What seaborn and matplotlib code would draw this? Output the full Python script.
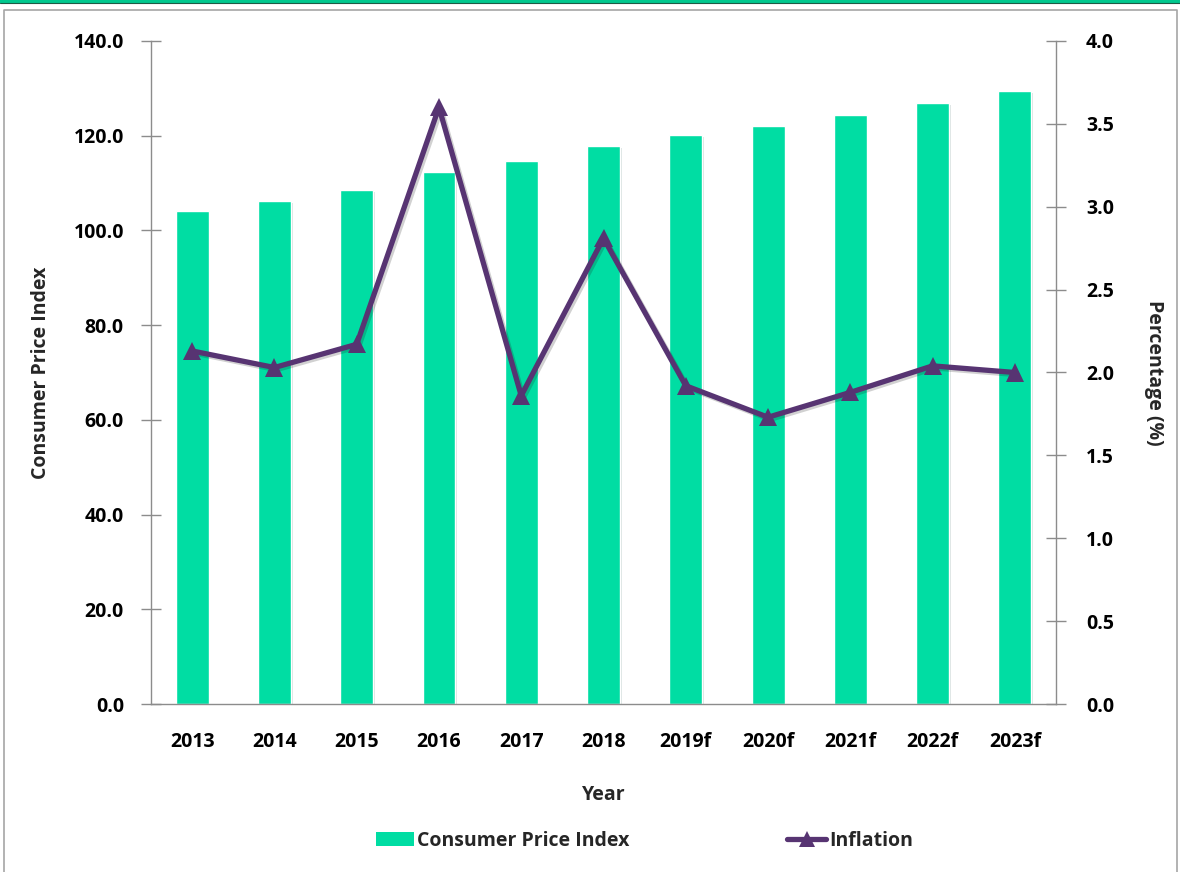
import numpy as np
import pandas as pd
import matplotlib
matplotlib.use("Agg")
import matplotlib.pyplot as plt
import matplotlib.patheffects as pe
from matplotlib.lines import Line2D
from matplotlib.patches import Patch, Rectangle
import seaborn as sns

years = ["2013", "2014", "2015", "2016", "2017", "2018",
         "2019f", "2020f", "2021f", "2022f", "2023f"]
cpi = [104.1, 106.2, 108.5, 112.3, 114.7, 117.8, 120.1, 122.0, 124.4, 126.9, 129.4]
inflation = [2.13, 2.03, 2.17, 3.60, 1.86, 2.81, 1.92, 1.73, 1.88, 2.04, 2.00]

left_ticks = np.arange(0, 141, 20)
right_ticks = np.arange(0, 4.01, 0.5)

BAR_GREEN = "#00DDA3"
LINE_PURPLE = "#573472"
AXIS_GREY = "#8C8C8C"
FS = 14

sns.set_theme(style="white")
plt.rcParams["font.family"] = ["Open Sans", "DejaVu Sans"]
plt.rcParams["font.weight"] = "bold"

df = pd.DataFrame({"Year": years, "CPI": cpi, "Inflation": inflation})

fig = plt.figure(figsize=(11.8, 8.72), dpi=100)
ax = fig.add_axes([151 / 1180, 1 - 704 / 872, (1056 - 151) / 1180, (704 - 41) / 872])

sns.barplot(data=df, x="Year", y="CPI", color=BAR_GREEN, saturation=1,
            width=0.4, ax=ax, zorder=2)
for bar in ax.patches:
    bar.set_path_effects([pe.SimplePatchShadow(offset=(1.2, -1.2), alpha=0.15),
                          pe.Normal()])

ax2 = ax.twinx()
sns.lineplot(data=df, x="Year", y="Inflation", color=LINE_PURPLE, linewidth=3.8,
             marker="^", markersize=13, markeredgewidth=0, ax=ax2, zorder=3)
for ln in ax2.lines:
    ln.set_path_effects([pe.SimpleLineShadow(offset=(1.5, -1.5), alpha=0.2),
                         pe.Normal()])

ax.set_xlim(-0.5, len(years) - 0.5)
ax.set_ylim(0, 140)
ax2.set_ylim(0, 4)
ax.set_yticks(left_ticks)
ax.set_yticklabels([f"{v:.1f}" for v in left_ticks])
ax2.set_yticks(right_ticks)
ax2.set_yticklabels([f"{v:.1f}" for v in right_ticks])

# category ticks between bars
ax.set_xticks(np.arange(-0.5, len(years) + 0.5, 1), minor=True)
ax.tick_params(axis="x", which="major", length=0, pad=20, labelsize=FS)
ax.tick_params(axis="x", which="minor", length=8, width=1, color=AXIS_GREY, direction="out")
ax.tick_params(axis="y", length=15, width=1, color=AXIS_GREY, direction="inout",
               pad=12, labelsize=FS)
ax2.tick_params(axis="y", length=15, width=1, color=AXIS_GREY, direction="inout",
                pad=14, labelsize=FS)

for a in (ax, ax2):
    a.spines["top"].set_visible(False)
    for side in ("left", "right", "bottom"):
        a.spines[side].set_color(AXIS_GREY)
        a.spines[side].set_linewidth(1)
ax.spines["right"].set_visible(False)
ax2.spines["left"].set_visible(False)
ax2.spines["bottom"].set_visible(False)

for lab in ax.get_xticklabels() + ax.get_yticklabels() + ax2.get_yticklabels():
    lab.set_fontweight("bold")
    lab.set_color("black")

ax.set_xlabel("Year", fontsize=FS, fontweight="bold", labelpad=24)
ax.set_ylabel("Consumer Price Index", fontsize=FS, fontweight="bold", labelpad=16)
ax2.set_ylabel("Percentage (%)", fontsize=FS, fontweight="bold", rotation=270,
               labelpad=36)
ax2.grid(False)
ax.grid(False)

handles = [
    Patch(facecolor=BAR_GREEN, edgecolor="none"),
    Line2D([0], [0], color=LINE_PURPLE, linewidth=3.8, marker="^", markersize=11,
           markeredgewidth=0),
]
fig.legend(handles, ["Consumer Price Index", "Inflation"], loc="center",
           bbox_to_anchor=(0.546, 0.036), ncol=2, frameon=False,
           prop={"size": FS, "weight": "bold"}, handlelength=2.0,
           handletextpad=0.15, columnspacing=8.1)

# outer frame and top band
fig.add_artist(Line2D([4 / 1180, 4 / 1180, 1177 / 1180, 1177 / 1180],
                      [0, 1 - 10 / 872, 1 - 10 / 872, 0],
                      transform=fig.transFigure, color="#A6A6A6", linewidth=1.2))
fig.add_artist(Rectangle((0, 1 - 3 / 872), 1, 3 / 872, transform=fig.transFigure,
                         facecolor="#00C88E", edgecolor="none"))
fig.add_artist(Line2D([0, 1], [1 - 3.5 / 872, 1 - 3.5 / 872], transform=fig.transFigure,
                      color="#1E5A45", linewidth=0.8))

fig.savefig("out.png", dpi=100)
